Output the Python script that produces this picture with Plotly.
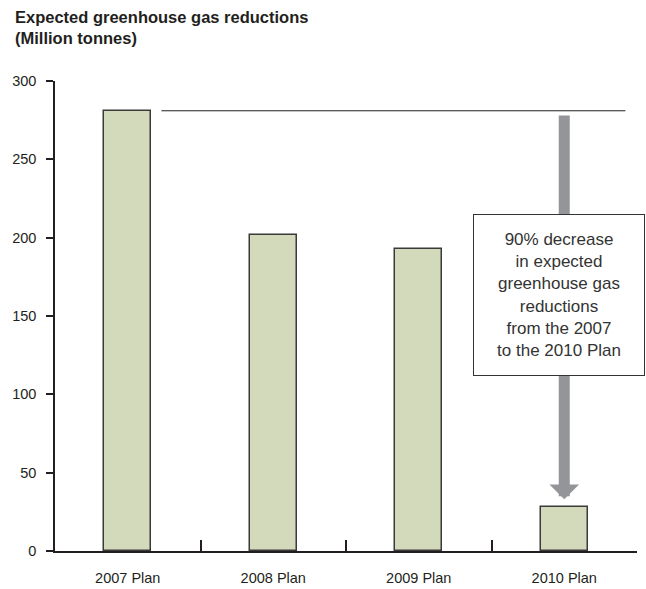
import plotly.graph_objects as go

# Expected greenhouse gas reductions by plan (million tonnes)
plans = ["2007 Plan", "2008 Plan", "2009 Plan", "2010 Plan"]
reductions = [281, 202, 193, 28]
y_ticks = [0, 50, 100, 150, 200, 250, 300]

title_text = "<b>Expected greenhouse gas reductions<br>(Million tonnes)</b>"
note_text = ("90% decrease<br>in expected<br>greenhouse gas<br>reductions"
             "<br>from the 2007<br>to the 2010 Plan")

BAR_WIDTH = 0.323
INK = "#231f20"
TICK_FONT = dict(family="Liberation Sans Narrow, Arial Narrow, Liberation Sans, sans-serif",
                 size=14.5, color=INK)

fig = go.Figure()
fig.add_trace(go.Bar(
    x=plans,
    y=reductions,
    width=BAR_WIDTH,
    marker=dict(color="#d3d9bb", line=dict(color="#3a3a3a", width=1.5)),
    hoverinfo="x+y",
))

# Reference level at the 2007 value
fig.add_shape(type="line", xref="x", yref="y",
              x0=BAR_WIDTH / 2 + 0.07, x1=3.42,
              y0=reductions[0], y1=reductions[0],
              line=dict(color=INK, width=1))

# Downward arrow from the 2007 level towards the 2010 bar
fig.add_annotation(
    x=plans[3], y=reductions[3] + 5,
    ax=plans[3], ay=reductions[0] - 2,
    xref="x", yref="y", axref="x", ayref="y",
    text="", showarrow=True,
    arrowhead=1, arrowsize=0.45, arrowwidth=11,
    arrowcolor="#939598", standoff=0,
)

# Explanatory note box
fig.add_annotation(
    x=0.866, y=0.5455, xref="paper", yref="paper",
    xanchor="center", yanchor="middle",
    text=note_text, showarrow=False, align="center",
    font=dict(family="Liberation Sans, Arial, sans-serif", size=17, color="#333333"),
    bgcolor="white", bordercolor="#333333", borderwidth=1, borderpad=0,
    width=170, height=160,
)

# Chart heading, two bold lines at the top left
fig.add_annotation(
    x=-42 / 582, y=1 + 75 / 470, xref="paper", yref="paper",
    xanchor="left", yanchor="top",
    text=title_text, showarrow=False, align="left",
    font=dict(family="Liberation Sans, Arial, sans-serif", size=16.5, color=INK),
)

fig.update_layout(
    width=646, height=589,
    margin=dict(l=55, r=9, t=81, b=38, autoexpand=False),
    paper_bgcolor="white", plot_bgcolor="white",
    showlegend=False,
    bargap=0,
    xaxis=dict(
        type="category", range=[-0.5, 3.5], automargin=False,
        showline=True, linecolor=INK, linewidth=1.5,
        ticks="inside", tickson="boundaries", ticklen=11,
        tickcolor=INK, tickwidth=1.5,
        showgrid=False, zeroline=False,
        tickfont=TICK_FONT, ticklabelstandoff=13,
    ),
    yaxis=dict(
        range=[0, 300], tickvals=y_ticks, automargin=False,
        showline=True, linecolor=INK, linewidth=1.5,
        ticks="outside", ticklen=7, tickcolor=INK, tickwidth=1.5,
        showgrid=False, zeroline=False,
        tickfont=TICK_FONT, ticklabelstandoff=7,
    ),
)

fig.write_html("out.html")
